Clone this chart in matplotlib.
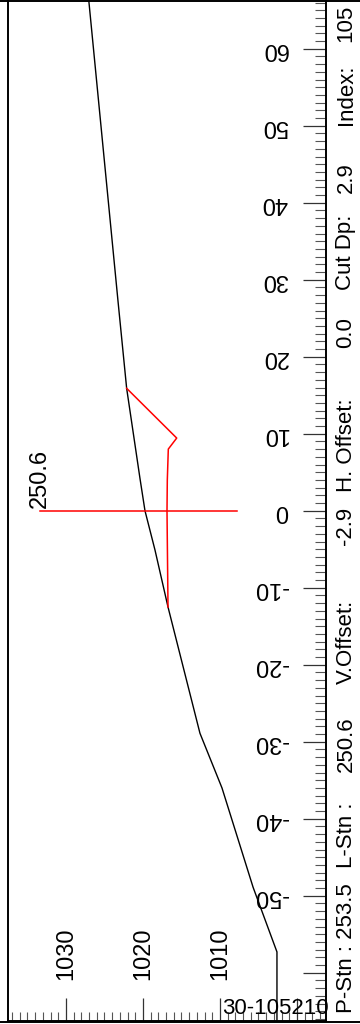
import numpy as np
import matplotlib.pyplot as plt
from matplotlib.ticker import MultipleLocator

plt.rcParams['font.family'] = ['Liberation Sans', 'DejaVu Sans']

# ground profile (offset -> elevation)
ground_off = [70.0, 27.3, 15.9, 4.2, 0.0, -5.1, -12.5, -28.9, -36.0, -48.9, -57.3, -70.0]
ground_elev = [1027.4, 1023.25, 1022.12, 1020.39, 1019.74, 1018.44, 1016.75, 1012.6, 1009.74, 1005.7, 1002.6, 1002.6]

# design / cut line
design_off = [15.9, 9.44, 8.01, 3.99, 0.0, -12.5]
design_elev = [1022.12, 1015.62, 1016.71, 1016.84, 1016.88, 1016.75]

# centre line marker
centre_elev = [1033.4, 1007.8]
centre_label = "250.6"

off_labels = [-50, -40, -30, -20, -10, 0, 10, 20, 30, 40, 50, 60]
elev_labels = [1030, 1020, 1010]

info = [("P-Stn : 253.5", 1013),
        ("L-Stn :", 868), ("250.6", 772),
        ("V.Offset:", 684), ("-2.9", 545),
        ("H. Offset:", 492), ("0.0", 348),
        ("Cut Dp:", 290), ("2.9", 193),
        ("Index:", 125), ("105", 42)]

fig = plt.figure(figsize=(3.6, 10.24), dpi=100)
ax = fig.add_axes([8.3 / 360, 3 / 1024, (325.7 - 8.3) / 360, 1020.5 / 1024])

ax.plot(ground_elev, ground_off, color='black', lw=1.0)
ax.plot(design_elev, design_off, color='red', lw=1.1)
ax.plot(centre_elev, [0, 0], color='red', lw=1.1)

ax.set_xlim(1037.49, 996.27)
ax.set_ylim(-66.27, 66.27)

for s in ['left', 'right']:
    ax.spines[s].set_linewidth(1.4)
ax.spines['top'].set_visible(False)
ax.spines['bottom'].set_linewidth(1.4)

# rulers
ax.xaxis.set_major_locator(MultipleLocator(10))
ax.xaxis.set_minor_locator(MultipleLocator(1))
ax.yaxis.set_major_locator(MultipleLocator(10))
ax.yaxis.set_minor_locator(MultipleLocator(1))
ax.tick_params(axis='x', which='major', direction='in', length=16.5, width=0.9, color='#333333',
               bottom=True, top=False, labelbottom=False)
ax.tick_params(axis='x', which='minor', direction='in', length=6.7, width=0.8, color='#555555',
               bottom=True, top=False)
ax.tick_params(axis='y', which='major', direction='in', length=16.3, width=0.9, color='#333333',
               left=False, right=True, labelleft=False, labelright=False)
ax.tick_params(axis='y', which='minor', direction='in', length=7.7, width=0.8, color='#555555',
               left=False, right=True)

for v in off_labels:
    ax.text(1001.17, v, str(v), rotation=180, ha='right', va='center', fontsize=17)
for v in elev_labels:
    ax.text(v, -60.95, str(v), rotation=90, ha='center', va='bottom', fontsize=17)

ax.text(1033.4, 0.3, centre_label, rotation=90, ha='center', va='bottom', fontsize=17)
ax.text(1009.7, -66.0, "30-105210", ha='left', va='bottom', fontsize=16)

for txt, ypx in info:
    fig.text(346 / 360, 1 - ypx / 1024, txt, rotation=90, ha='center', va='bottom', fontsize=16)

# frame lines across the full width
fig.add_artist(plt.Line2D([0, 1], [0.9995, 0.9995], color='black', lw=1.4))
fig.add_artist(plt.Line2D([0, 1], [2.5 / 1024, 2.5 / 1024], color='black', lw=1.4))

fig.savefig('out.png', dpi=100)
